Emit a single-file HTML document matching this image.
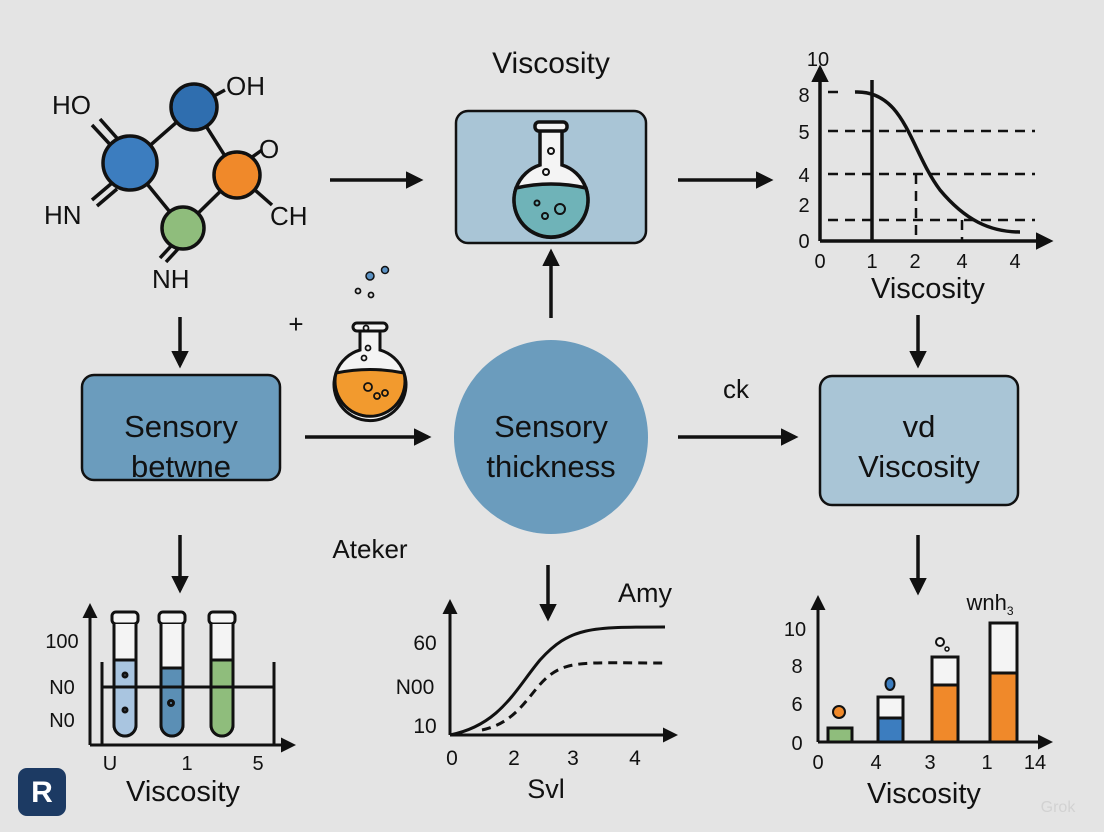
<!DOCTYPE html>
<html><head><meta charset="utf-8"><style>
html,body{margin:0;padding:0;background:#e4e4e4;}
svg{display:block;font-family:"Liberation Sans",sans-serif;}
</style></head><body>
<svg width="1104" height="832" viewBox="0 0 1104 832" xmlns="http://www.w3.org/2000/svg">
<defs>
<marker id="ah" viewBox="0 0 10 10" refX="8" refY="5" markerWidth="5" markerHeight="5" orient="auto-start-reverse" markerUnits="strokeWidth">
<path d="M0,0 L10,5 L0,10 Z" fill="#111"/></marker>
</defs>
<rect width="1104" height="832" fill="#e4e4e4"/>
<g stroke="#111" stroke-width="3.5" fill="none">
<line x1="130" y1="163" x2="194" y2="107"/><line x1="194" y1="107" x2="237" y2="175"/>
<line x1="130" y1="163" x2="183" y2="228"/><line x1="183" y1="228" x2="237" y2="175"/>
<line x1="194" y1="107" x2="225" y2="90"/>
<line x1="92" y1="125" x2="117" y2="152"/><line x1="100" y1="119" x2="124" y2="146"/>
<line x1="92" y1="200" x2="112" y2="183"/><line x1="97" y1="206" x2="117" y2="189"/>
<line x1="160" y1="258" x2="172" y2="245"/><line x1="166" y1="262" x2="178" y2="249"/>
<line x1="248" y1="160" x2="262" y2="150"/>
<line x1="255" y1="190" x2="272" y2="205"/>
</g>
<g stroke="#111" stroke-width="3.5">
<circle cx="194" cy="107" r="23" fill="#2f6eaf"/>
<circle cx="130" cy="163" r="27" fill="#3c7dbf"/>
<circle cx="237" cy="175" r="23" fill="#f0892a"/>
<circle cx="183" cy="228" r="21" fill="#8fbd7c"/>
</g>
<g font-size="26" fill="#111">
<text x="52" y="114">HO</text><text x="226" y="95">OH</text><text x="259" y="158">O</text>
<text x="44" y="224">HN</text><text x="270" y="225">CH</text><text x="152" y="288">NH</text>
</g>
<g stroke="#111" stroke-width="3.5" marker-end="url(#ah)">
<line x1="330" y1="180" x2="420" y2="180"/>
<line x1="678" y1="180" x2="770" y2="180"/>
<line x1="180" y1="317" x2="180" y2="365"/>
<line x1="918" y1="315" x2="918" y2="365"/>
<line x1="551" y1="318" x2="551" y2="252"/>
<line x1="305" y1="437" x2="428" y2="437"/>
<line x1="678" y1="437" x2="795" y2="437"/>
<line x1="180" y1="535" x2="180" y2="590"/>
<line x1="548" y1="565" x2="548" y2="618"/>
<line x1="918" y1="535" x2="918" y2="592"/>
</g>
<text x="551" y="73" font-size="30" text-anchor="middle" fill="#111">Viscosity</text>
<rect x="456" y="111" width="190" height="132" rx="12" fill="#a9c5d6" stroke="#111" stroke-width="2.5"/>
<g stroke="#111" stroke-width="3.5">
<path d="M540,128 L540,165 A37,37 0 1 0 562,165 L562,128" fill="#f4f4f4"/>
<rect x="535" y="122" width="32" height="9" rx="4" fill="#f4f4f4"/>
<path d="M516,188 Q551,180 586,188 A37,37 0 1 1 516,188 Z" fill="#6fb3b8"/>
</g>
<g fill="none" stroke="#111" stroke-width="2"><circle cx="551" cy="151" r="3"/><circle cx="546" cy="172" r="3"/><circle cx="537" cy="203" r="2.5"/><circle cx="560" cy="209" r="5"/><circle cx="545" cy="216" r="3"/></g>
<g stroke="#111" stroke-width="3.5" fill="none">
<line x1="820" y1="241" x2="1050" y2="241" marker-end="url(#ah)"/>
<line x1="820" y1="241" x2="820" y2="68" marker-end="url(#ah)"/>
<line x1="872" y1="80" x2="872" y2="241"/>
<path d="M855,92 C905,90 910,150 940,190 C965,220 990,232 1020,232"/>
</g>
<g stroke="#111" stroke-width="2.5" stroke-dasharray="10,7" fill="none">
<line x1="828" y1="92" x2="842" y2="92"/><line x1="828" y1="131" x2="1035" y2="131"/>
<line x1="828" y1="174" x2="1035" y2="174"/><line x1="828" y1="220" x2="1035" y2="220"/>
<line x1="916" y1="174" x2="916" y2="241"/><line x1="962" y1="220" x2="962" y2="241"/>
</g>
<g font-size="20" fill="#111" text-anchor="middle">
<text x="818" y="66">10</text><text x="804" y="102">8</text><text x="804" y="139">5</text><text x="804" y="182">4</text><text x="804" y="212">2</text><text x="804" y="248">0</text>
<text x="820" y="268">0</text><text x="872" y="268">1</text><text x="915" y="268">2</text><text x="962" y="268">4</text><text x="1015" y="268">4</text>
</g>
<text x="928" y="298" font-size="29" text-anchor="middle" fill="#111">Viscosity</text>
<text x="296" y="333" font-size="26" text-anchor="middle" fill="#111">+</text>
<g stroke="#111" stroke-width="3">
<path d="M360,330 L360,350 A36,36 0 1 0 380,350 L380,330" fill="#f4f4f4"/>
<rect x="353" y="323" width="34" height="8" rx="4" fill="#f4f4f4"/>
<path d="M336,373 Q370,366 404,373 A35,35 0 1 1 336,373 Z" fill="#f29a2e"/>
</g>
<g fill="#5b92c4" stroke="#111" stroke-width="1.5"><circle cx="370" cy="276" r="4"/><circle cx="385" cy="270" r="3.5"/></g>
<g fill="none" stroke="#111" stroke-width="1.8"><circle cx="358" cy="291" r="2.5"/><circle cx="371" cy="295" r="2.5"/><circle cx="366" cy="328" r="2.5"/><circle cx="368" cy="348" r="2.5"/><circle cx="364" cy="358" r="2.5"/><circle cx="368" cy="387" r="4"/><circle cx="377" cy="396" r="3"/><circle cx="385" cy="393" r="3"/></g>
<rect x="82" y="375" width="198" height="105" rx="12" fill="#6b9cbd" stroke="#111" stroke-width="2.5"/>
<text x="181" y="437" font-size="31" text-anchor="middle" fill="#111">Sensory</text>
<text x="181" y="477" font-size="31" text-anchor="middle" fill="#111">betwne</text>
<circle cx="551" cy="437" r="97" fill="#6b9cbd"/>
<text x="551" y="437" font-size="31" text-anchor="middle" fill="#111">Sensory</text>
<text x="551" y="477" font-size="31" text-anchor="middle" fill="#111">thickness</text>
<text x="736" y="398" font-size="26" text-anchor="middle" fill="#111">ck</text>
<rect x="820" y="376" width="198" height="129" rx="12" fill="#a9c5d6" stroke="#111" stroke-width="2.5"/>
<text x="919" y="437" font-size="31" text-anchor="middle" fill="#111">vd</text>
<text x="919" y="477" font-size="31" text-anchor="middle" fill="#111">Viscosity</text>
<text x="370" y="558" font-size="26" text-anchor="middle" fill="#111">Ateker</text>
<g stroke="#111" stroke-width="3">
<rect x="112" y="612" width="26" height="12" rx="4" fill="#f4f4f4"/>
<path d="M114,624 L114,725 A11,11 0 0 0 136,725 L136,624" fill="#f4f4f4"/>
<path d="M114,660 L136,660 L136,725 A11,11 0 0 1 114,725 Z" fill="#a9c5e0"/>
<rect x="159" y="612" width="26" height="12" rx="4" fill="#f4f4f4"/>
<path d="M161,624 L161,725 A11,11 0 0 0 183,725 L183,624" fill="#f4f4f4"/>
<path d="M161,668 L183,668 L183,725 A11,11 0 0 1 161,725 Z" fill="#5b8fb5"/>
<rect x="209" y="612" width="26" height="12" rx="4" fill="#f4f4f4"/>
<path d="M211,624 L211,725 A11,11 0 0 0 233,725 L233,624" fill="#f4f4f4"/>
<path d="M211,660 L233,660 L233,725 A11,11 0 0 1 211,725 Z" fill="#8fbd7c"/>
</g>
<g stroke="#111" stroke-width="3" fill="none">
<line x1="90" y1="745" x2="293" y2="745" marker-end="url(#ah)"/>
<line x1="90" y1="745" x2="90" y2="606" marker-end="url(#ah)"/>
<line x1="102" y1="687" x2="275" y2="687"/>
<line x1="102" y1="662" x2="102" y2="745"/><line x1="274" y1="662" x2="274" y2="745"/>
<circle cx="125" cy="675" r="2"/><circle cx="125" cy="710" r="2"/><circle cx="171" cy="703" r="2.5"/>
</g>
<g font-size="20" fill="#111" text-anchor="middle">
<text x="62" y="648">100</text><text x="62" y="694">N0</text><text x="62" y="727">N0</text>
<text x="110" y="770">U</text><text x="187" y="770">1</text><text x="258" y="770">5</text>
</g>
<text x="183" y="801" font-size="29" text-anchor="middle" fill="#111">Viscosity</text>
<g stroke="#111" stroke-width="3" fill="none">
<line x1="450" y1="735" x2="675" y2="735" marker-end="url(#ah)"/>
<line x1="450" y1="735" x2="450" y2="602" marker-end="url(#ah)"/>
<path d="M450,735 C500,725 515,690 540,660 C570,627 590,627 665,627"/>
<path d="M482,730 C520,722 530,690 550,675 C570,660 590,663 665,663" stroke-dasharray="9,6"/>
</g>
<g font-size="21" fill="#111" text-anchor="middle">
<text x="425" y="650">60</text><text x="415" y="694">N00</text><text x="425" y="733">10</text>
<text x="452" y="765">0</text><text x="514" y="765">2</text><text x="573" y="765">3</text><text x="635" y="765">4</text>
</g>
<text x="546" y="798" font-size="27" text-anchor="middle" fill="#111">Svl</text>
<text x="645" y="602" font-size="27" text-anchor="middle" fill="#111">Amy</text>
<g stroke="#111" stroke-width="3">
<rect x="828" y="728" width="24" height="14" fill="#8fbd7c"/>
<rect x="878" y="697" width="25" height="45" fill="#f4f4f4"/><rect x="878" y="718" width="25" height="24" fill="#3c7dbf"/>
<rect x="932" y="657" width="26" height="85" fill="#f4f4f4"/><rect x="932" y="685" width="26" height="57" fill="#f0892a"/>
<rect x="990" y="623" width="27" height="119" fill="#f4f4f4"/><rect x="990" y="673" width="27" height="69" fill="#f0892a"/>
<circle cx="839" cy="712" r="6" fill="#f0892a" stroke-width="2"/>
<ellipse cx="890" cy="684" rx="4.5" ry="6" fill="#3c7dbf" stroke-width="2"/>
<circle cx="940" cy="642" r="4" fill="#f4f4f4" stroke-width="2"/><circle cx="947" cy="649" r="2" fill="#f4f4f4" stroke-width="1.5"/>
</g>
<g stroke="#111" stroke-width="3" fill="none">
<line x1="818" y1="742" x2="1050" y2="742" marker-end="url(#ah)"/>
<line x1="818" y1="742" x2="818" y2="598" marker-end="url(#ah)"/>
</g>
<g font-size="20" fill="#111" text-anchor="middle">
<text x="795" y="636">10</text><text x="797" y="673">8</text><text x="797" y="711">6</text><text x="797" y="750">0</text>
<text x="818" y="769">0</text><text x="876" y="769">4</text><text x="930" y="769">3</text><text x="987" y="769">1</text><text x="1035" y="769">14</text>
</g>
<text x="990" y="610" font-size="22" text-anchor="middle" fill="#111">wnh<tspan font-size="12" dy="5">3</tspan></text>
<text x="924" y="803" font-size="29" text-anchor="middle" fill="#111">Viscosity</text>
<rect x="18" y="768" width="48" height="48" rx="9" fill="#1c3a63"/>
<text x="42" y="802" font-size="30" font-weight="bold" text-anchor="middle" fill="#fff">R</text>
<text x="1058" y="812" font-size="16" text-anchor="middle" fill="#d2d2d2">Grok</text>
</svg>
</body></html>
